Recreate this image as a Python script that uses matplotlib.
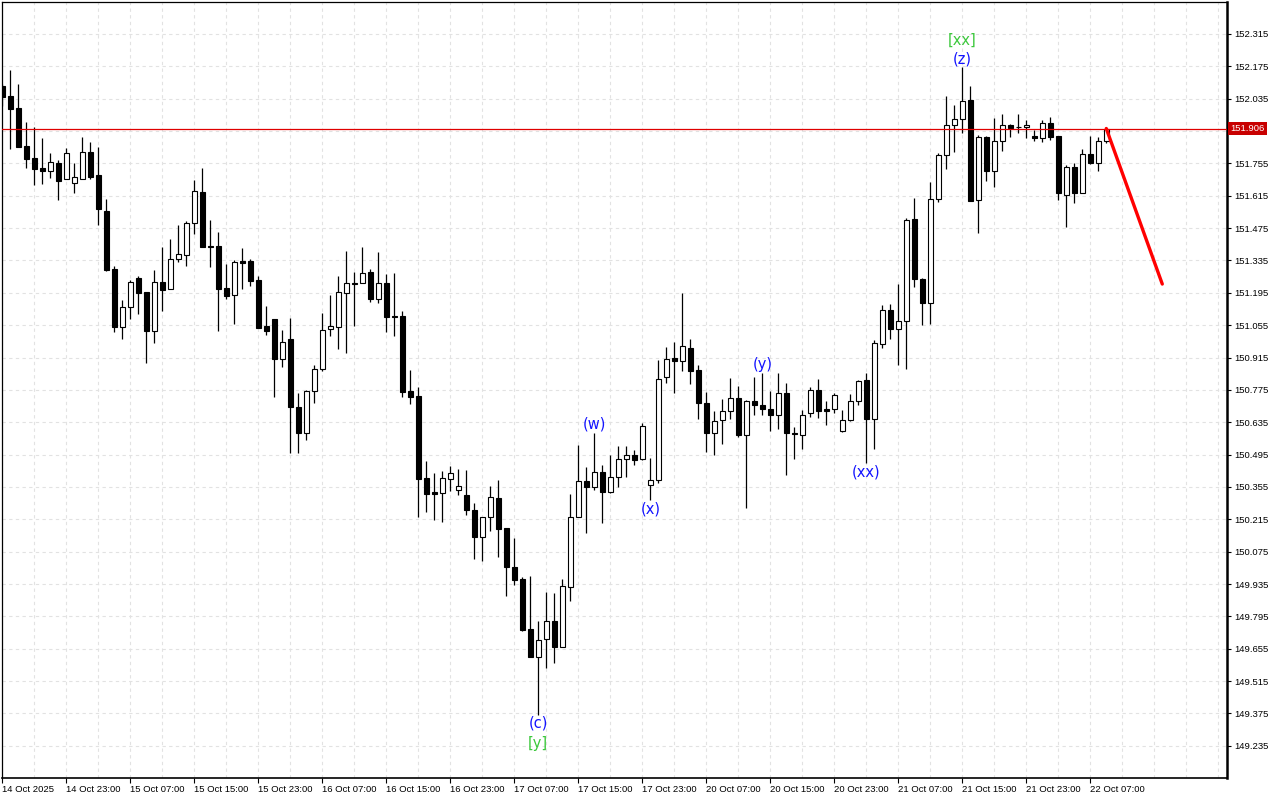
import numpy as np
import matplotlib
matplotlib.use('Agg')
import matplotlib.pyplot as plt
import matplotlib.transforms as mtrans

# H1 candles, 14 Oct 15:00 -> 22 Oct 09:00
opens = [152.090, 152.047, 151.995, 151.830, 151.778, 151.735, 151.723, 151.757, 151.686, 151.669,
         151.689, 151.804, 151.704, 151.548, 151.297, 151.048, 151.132, 151.259, 151.199, 151.031,
         151.242, 151.213, 151.340, 151.357, 151.496, 151.631, 151.396, 151.398, 151.216, 151.187,
         151.334, 151.334, 151.250, 151.051, 151.080, 150.910, 150.994, 150.700, 150.590, 150.769,
         150.864, 151.037, 151.048, 151.196, 151.236, 151.236, 151.285, 151.170, 151.236, 151.095,
         151.095, 150.769, 150.749, 150.394, 150.332, 150.330, 150.388, 150.341, 150.319, 150.255,
         150.140, 150.224, 150.307, 150.177, 150.010, 149.955, 149.739, 149.621, 149.696, 149.774,
         149.664, 149.921, 150.224, 150.379, 150.353, 150.420, 150.333, 150.399, 150.477, 150.492,
         150.475, 150.365, 150.385, 150.832, 150.913, 150.901, 150.956, 150.861, 150.717, 150.590,
         150.645, 150.682, 150.740, 150.579, 150.726, 150.708, 150.694, 150.668, 150.760, 150.587,
         150.581, 150.674, 150.775, 150.691, 150.691, 150.598, 150.645, 150.726, 150.818, 150.650,
         150.974, 151.121, 151.040, 151.072, 151.513, 151.254, 151.150, 151.602, 151.793, 151.920,
         151.946, 152.029, 151.597, 151.871, 151.723, 151.851, 151.920, 151.913, 151.911, 151.874,
         151.865, 151.929, 151.874, 151.620, 151.738, 151.628, 151.796, 151.755, 151.853]
highs = [152.099, 152.159, 152.099, 151.934, 151.914, 151.865, 151.800, 151.770, 151.822, 151.755,
         151.868, 151.848, 151.825, 151.600, 151.311, 151.164, 151.250, 151.268, 151.199, 151.294,
         151.392, 151.427, 151.487, 151.504, 151.683, 151.735, 151.510, 151.458, 151.320, 151.337,
         151.389, 151.343, 151.268, 151.138, 151.080, 151.034, 151.086, 150.760, 150.775, 150.881,
         151.109, 151.187, 151.268, 151.377, 151.285, 151.395, 151.297, 151.372, 151.276, 151.279,
         151.118, 150.861, 150.789, 150.469, 150.417, 150.425, 150.446, 150.431, 150.428, 150.287,
         150.224, 150.359, 150.385, 150.177, 150.134, 149.967, 149.970, 149.774, 149.900, 149.897,
         149.955, 150.325, 150.538, 150.440, 150.587, 150.449, 150.492, 150.532, 150.532, 150.515,
         150.630, 150.480, 150.904, 150.959, 150.982, 151.193, 150.994, 150.881, 150.766, 150.682,
         150.737, 150.826, 150.792, 150.731, 150.831, 150.847, 150.769, 150.847, 150.804, 150.616,
         150.688, 150.789, 150.821, 150.726, 150.760, 150.688, 150.757, 150.818, 150.849, 150.991,
         151.141, 151.147, 151.233, 151.519, 151.605, 151.259, 151.675, 151.799, 152.047, 152.006,
         152.171, 152.090, 151.877, 151.874, 151.951, 151.969, 151.926, 151.969, 151.943, 151.900,
         151.943, 151.955, 151.874, 151.747, 151.758, 151.816, 151.874, 151.871, 151.908]
lows = [152.003, 151.817, 151.826, 151.735, 151.663, 151.666, 151.692, 151.597, 151.686, 151.628,
        151.689, 151.689, 151.490, 151.291, 151.025, 150.996, 151.083, 151.103, 150.893, 150.979,
        151.118, 151.213, 151.328, 151.311, 151.450, 151.392, 151.308, 151.031, 151.170, 151.060,
        151.213, 151.225, 151.043, 151.014, 150.746, 150.875, 150.503, 150.503, 150.558, 150.720,
        150.858, 151.008, 150.953, 150.936, 151.051, 151.236, 151.155, 151.152, 151.025, 151.008,
        150.746, 150.714, 150.226, 150.247, 150.212, 150.203, 150.339, 150.319, 150.235, 150.045,
        150.036, 150.166, 150.051, 149.883, 149.929, 149.730, 149.618, 149.367, 149.572, 149.595,
        149.661, 149.863, 150.224, 150.154, 150.342, 150.198, 150.328, 150.356, 150.399, 150.449,
        150.472, 150.299, 150.371, 150.806, 150.760, 150.858, 150.800, 150.648, 150.506, 150.492,
        150.541, 150.648, 150.570, 150.264, 150.668, 150.668, 150.598, 150.607, 150.405, 150.477,
        150.521, 150.659, 150.653, 150.624, 150.676, 150.593, 150.642, 150.711, 150.457, 150.521,
        150.956, 150.996, 150.884, 150.867, 151.219, 151.057, 151.060, 151.588, 151.732, 151.804,
        151.888, 151.594, 151.453, 151.678, 151.652, 151.810, 151.871, 151.888, 151.865, 151.851,
        151.848, 151.856, 151.597, 151.481, 151.585, 151.626, 151.752, 151.723, 151.845]
closes = [152.042, 151.992, 151.827, 151.775, 151.729, 151.723, 151.761, 151.680, 151.799, 151.695,
          151.804, 151.697, 151.559, 151.294, 151.048, 151.132, 151.242, 151.196, 151.031, 151.242,
          151.207, 151.340, 151.362, 151.496, 151.634, 151.395, 151.395, 151.213, 151.181, 151.328,
          151.325, 151.247, 151.043, 151.031, 150.910, 150.982, 150.700, 150.590, 150.771, 150.864,
          151.034, 151.050, 151.199, 151.236, 151.235, 151.282, 151.170, 151.236, 151.092, 151.090,
          150.766, 150.746, 150.391, 150.325, 150.325, 150.394, 150.417, 150.358, 150.255, 150.140,
          150.224, 150.310, 150.174, 150.007, 149.952, 149.736, 149.621, 149.693, 149.774, 149.664,
          149.926, 150.226, 150.379, 150.353, 150.420, 150.333, 150.399, 150.477, 150.492, 150.472,
          150.619, 150.385, 150.821, 150.910, 150.901, 150.965, 150.858, 150.720, 150.590, 150.642,
          150.682, 150.740, 150.579, 150.726, 150.708, 150.694, 150.665, 150.760, 150.587, 150.583,
          150.668, 150.775, 150.682, 150.685, 150.752, 150.645, 150.726, 150.815, 150.650, 150.977,
          151.121, 151.040, 151.072, 151.510, 151.254, 151.150, 151.602, 151.793, 151.922, 151.946,
          152.026, 151.594, 151.871, 151.723, 151.851, 151.920, 151.908, 151.911, 151.922, 151.866,
          151.929, 151.871, 151.626, 151.738, 151.626, 151.796, 151.755, 151.853, 151.906]

date_labels = ['14 Oct 2025', '14 Oct 23:00', '15 Oct 07:00', '15 Oct 15:00', '15 Oct 23:00',
               '16 Oct 07:00', '16 Oct 15:00', '16 Oct 23:00', '17 Oct 07:00', '17 Oct 15:00',
               '17 Oct 23:00', '20 Oct 07:00', '20 Oct 15:00', '20 Oct 23:00', '21 Oct 07:00',
               '21 Oct 15:00', '21 Oct 23:00', '22 Oct 07:00']
price_labels = [152.315, 152.175, 152.035, 151.895, 151.755, 151.615, 151.475, 151.335, 151.195,
                151.055, 150.915, 150.775, 150.635, 150.495, 150.355, 150.215, 150.075, 149.935,
                149.795, 149.655, 149.515, 149.375, 149.235]
bid = 151.906

# wave labels: (text, candle index, price, colour)
wave_text  = ['(w)', '(x)', '(y)', '(xx)', '(c)', '[y]', '(z)', '[xx]']
wave_idx   = [74, 81, 95, 108, 67, 67, 120, 120]
wave_price = [150.628, 150.260, 150.887, 150.420, 149.334, 149.247, 152.207, 152.289]
wave_color = ['#1414ff', '#1414ff', '#1414ff', '#1414ff', '#1414ff', '#3cc83c', '#1414ff', '#3cc83c']

# forecast arrow
fc_idx = [138, 145]
fc_price = [151.906, 151.233]

axfont = ['Liberation Sans', 'DejaVu Sans']

fig = plt.figure(figsize=(12.8, 8), dpi=100)
ax = fig.add_axes([2/1280, 22/800, 1225/1280, 776/800])
ax.set_xlim(-0.04, 153.09)
ax.set_ylim(149.0956, 152.4534)

n = len(opens)
x = np.arange(n)
o = np.array(opens); c = np.array(closes)
up = c > o

# grid
for p in price_labels:
    ax.axhline(p, color='#e2e2e2', lw=0.8, ls=(0, (3, 3)), zorder=0)
for gx in range(0, 154, 4):
    ax.axvline(gx, color='#e2e2e2', lw=0.8, ls=(0, (3, 3)), zorder=0)

# candles
ax.vlines(x, lows, highs, color='black', lw=0.9, zorder=2)
bottoms = np.minimum(o, c)
heights = np.maximum(np.abs(c - o), 0.0004)
ax.bar(x, heights, bottom=bottoms, width=0.56,
       color=np.where(up, 'white', 'black'), edgecolor='black', lw=0.8, zorder=3)

ax.axhline(bid, color='#e00000', lw=0.9, zorder=4)
ax.plot(fc_idx, fc_price, color='#ff0000', lw=2.4, solid_capstyle='round', zorder=5)

for t, i, p, col in zip(wave_text, wave_idx, wave_price, wave_color):
    ax.text(i, p, t, color=col, fontsize=10.5, family='DejaVu Sans', ha='center', va='center', zorder=6)

# axes styling; the 151.895 label sits under the bid box in the original
ax.yaxis.tick_right()
ax.set_yticks(price_labels)
ax.set_yticklabels(['' if abs(p - bid) < 0.03 else '%.3f' % p for p in price_labels],
                   family=axfont, fontsize=6.8)
ax.tick_params(axis='y', direction='out', length=3, pad=2, width=0.8)
ax.set_xticks(np.arange(0, n, 8))
ax.set_xticklabels(date_labels, family=axfont, fontsize=6.8, ha='left')
ax.tick_params(axis='x', direction='out', length=3.5, pad=1.5, width=0.8)

for s in ['left', 'top']:
    ax.spines[s].set_linewidth(0.9)
ax.spines['right'].set_linewidth(1.8)
ax.spines['bottom'].set_linewidth(1.2)

trans = mtrans.blended_transform_factory(ax.transAxes, ax.transData)
ax.text(1.0 + 3/1225, bid, '%.3f' % bid, transform=trans, color='white', fontsize=6.8,
        family=axfont, ha='left', va='center', zorder=10, clip_on=False,
        bbox=dict(facecolor='#c80000', edgecolor='none', pad=1.8))

fig.savefig('out.png', dpi=100, facecolor='white')
